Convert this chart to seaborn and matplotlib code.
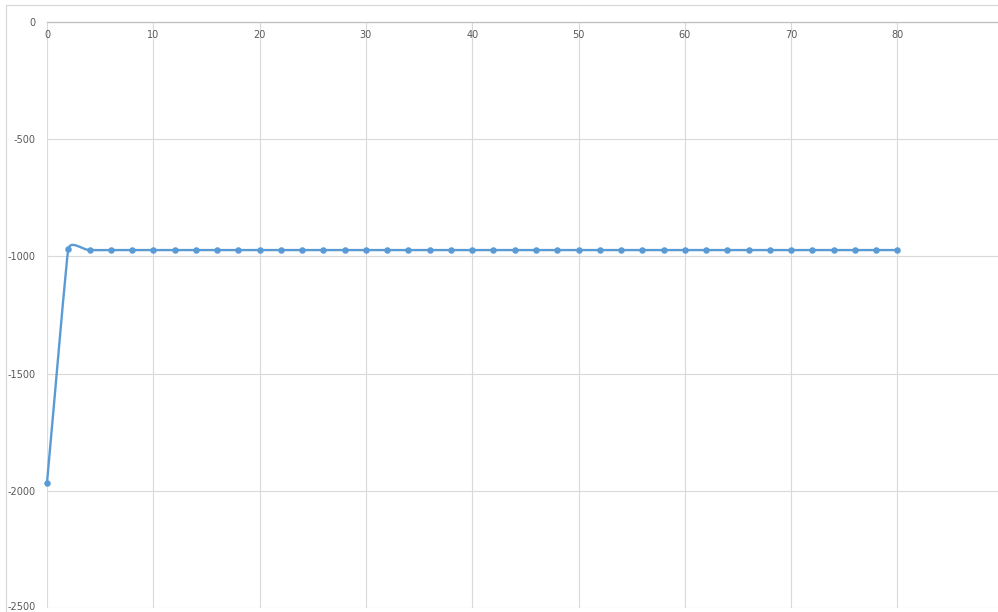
import numpy as np
import pandas as pd
import matplotlib
matplotlib.use("Agg")
import matplotlib.pyplot as plt
import seaborn as sns
from matplotlib.path import Path
from matplotlib.patches import PathPatch
from matplotlib.lines import Line2D
from matplotlib.transforms import ScaledTranslation

# ---- data ----
steps = [0, 2, 4, 6, 8, 10, 12, 14, 16, 18, 20, 22, 24, 26, 28, 30, 32, 34, 36, 38, 40,
         42, 44, 46, 48, 50, 52, 54, 56, 58, 60, 62, 64, 66, 68, 70, 72, 74, 76, 78, 80]
values = [-1965, -970, -973, -973, -973, -973, -973, -973, -973, -973, -973,
          -973, -973, -973, -973, -973, -973, -973, -973, -973, -973,
          -973, -973, -973, -973, -973, -973, -973, -973, -973, -973,
          -973, -973, -973, -973, -973, -973, -973, -973, -973, -973]
x_ticks = [0, 10, 20, 30, 40, 50, 60, 70, 80]
y_ticks = [0, -500, -1000, -1500, -2000, -2500]

df = pd.DataFrame({"step": steps, "value": values})

sns.set_theme(style="white")
plt.rcParams["font.family"] = ["DejaVu Sans"]

W, H = 998, 612
fig = plt.figure(figsize=(W / 100, H / 100), dpi=100)
fig.patch.set_facecolor("white")

left_px, top_px, bottom_px = 47, 22, 608
px_per_unit = 10.63
xmax = 90
ax = fig.add_axes([left_px / W, 1 - bottom_px / H,
                   xmax * px_per_unit / W, (bottom_px - top_px) / H])
ax.set_xlim(0, xmax)
ax.set_ylim(-2500, 0)

line_color = "#5b9bd5"
grid_color = "#d9d9d9"
label_color = "#595959"

# grid
ax.set_xticks(x_ticks)
ax.set_yticks(y_ticks)
ax.grid(True, color=grid_color, linewidth=0.8)
ax.set_axisbelow(True)
for s in ["left", "right", "top"]:
    ax.spines[s].set_visible(False)
ax.spines["bottom"].set_position(("data", 0))
ax.spines["bottom"].set_color("#bfbfbf")
ax.spines["bottom"].set_linewidth(0.9)
ax.tick_params(axis="x", length=0, pad=6, labelsize=7, labelcolor=label_color)
ax.tick_params(axis="y", length=0, pad=8, labelsize=7, labelcolor=label_color)
ax.set_xticklabels([str(t) for t in x_ticks])
ax.set_yticklabels([str(t) for t in y_ticks])

# smoothed line (Excel-like Bezier smoothing), built from the data in display space
pts = ax.transData.transform(np.column_stack([df["step"], df["value"]]))
n = len(pts)
seglen = np.hypot(*(np.diff(pts, axis=0).T))
tang = np.zeros_like(pts)
for i in range(n):
    if i == 0:
        t = (pts[1] - pts[0]) / 3
        lim = 0.5 * seglen[0]
    elif i == n - 1:
        t = (pts[-1] - pts[-2]) / 3
        lim = 0.5 * seglen[-1]
    else:
        t = (pts[i + 1] - pts[i - 1]) / 6
        lim = 0.5 * min(seglen[i - 1], seglen[i])
    L = np.hypot(*t)
    if L > lim and L > 0:
        t = t * lim / L
    tang[i] = t

verts = [pts[0]]
codes = [Path.MOVETO]
for i in range(n - 1):
    verts += [pts[i] + tang[i], pts[i + 1] - tang[i + 1], pts[i + 1]]
    codes += [Path.CURVE4] * 3
verts_data = ax.transData.inverted().transform(np.array(verts))
path = Path(verts_data, codes)
ax.add_patch(PathPatch(path, facecolor="none", edgecolor=line_color,
                       linewidth=1.7, capstyle="round", joinstyle="round",
                       zorder=3, clip_on=False))

sns.scatterplot(data=df, x="step", y="value", ax=ax, color=line_color,
                s=22, edgecolor=line_color, linewidth=0, zorder=4, legend=False,
                clip_on=False)
ax.set_xlabel("")
ax.set_ylabel("")

# nudge the bottom tick label slightly up so it stays inside the image
last = ax.get_yticklabels()[-1]
last.set_transform(last.get_transform() + ScaledTranslation(0, 2 / 100, fig.dpi_scale_trans))

# outer chart frame (partially visible)
fig.add_artist(Line2D([6 / W, 1], [1 - 5 / H, 1 - 5 / H], transform=fig.transFigure,
                      color=grid_color, linewidth=0.9))
fig.add_artist(Line2D([6 / W, 6 / W], [0, 1 - 5 / H], transform=fig.transFigure,
                      color=grid_color, linewidth=0.9))

fig.savefig("out.png", dpi=100, facecolor="white")
